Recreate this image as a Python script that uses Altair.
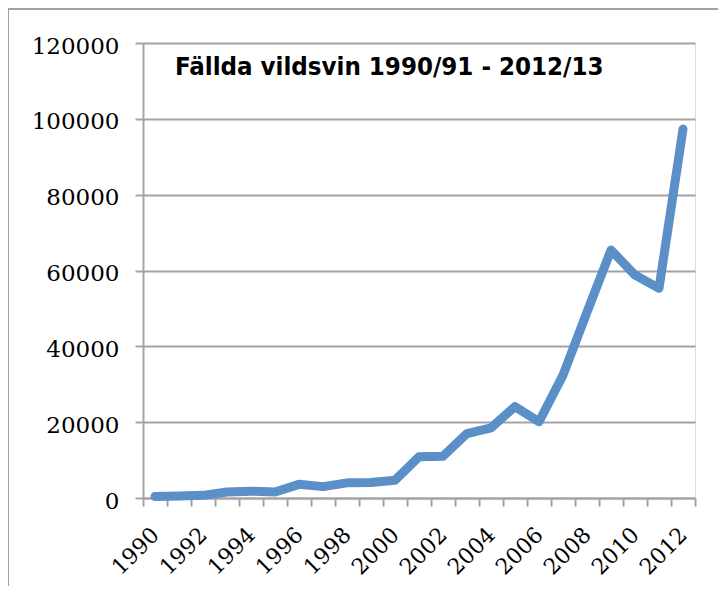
import altair as alt
import pandas as pd

years = list(range(1990, 2013))
killed = [400, 500, 700, 1600, 1800, 1600, 3600, 3000, 4000, 4100, 4700,
          10900, 11000, 17000, 18500, 24100, 20100, 32400, 49000, 65400,
          58800, 55300, 97300]
y_ticks = [0, 20000, 40000, 60000, 80000, 100000, 120000]
x_label_years = list(range(1990, 2013, 2))
x_tick_pos = [y - 0.5 for y in range(1990, 2014)]
title_text = "Fällda vildsvin 1990/91 - 2012/13"

df = pd.DataFrame({"year": years, "killed": killed})

W, H = 552, 455
PAD_L, PAD_T = 135, 35
PAD_R = 710 - PAD_L - W
PAD_B = 578 - PAD_T - H
GRAY = "#a3a3a3"
SERIF = "DejaVu Serif"

x_axis = alt.Axis(
    values=sorted(x_tick_pos + x_label_years),
    labelExpr="datum.value % 2 == 0 ? toString(datum.value) : ''",
    tickOpacity=alt.ExprRef(expr="datum.value % 1 == 0 ? 0 : 1"),
    labelAngle=-45, labelAlign="right", labelBaseline="middle",
    labelFont=SERIF, labelFontSize=22, labelColor="black",
    labelPadding=25, labelOverlap=False, labelBound=False, labelFlush=False,
    tickSize=8, tickColor=GRAY, tickWidth=2,
    domainColor=GRAY, domainWidth=2, grid=False, title=None,
)
y_axis = alt.Axis(
    values=y_ticks, format="d",
    labelFont=SERIF, labelFontSize=23, labelColor="black", labelPadding=16,
    labelOffset=3,
    tickSize=8, tickColor=GRAY, tickWidth=2,
    domainColor=GRAY, domainWidth=2,
    grid=True, gridColor=GRAY, gridWidth=2, title=None,
)

line = alt.Chart(df).mark_line(
    color="#5a8fc8", strokeWidth=9, strokeCap="round", strokeJoin="round"
).encode(
    x=alt.X("year:Q", scale=alt.Scale(domain=[1989.5, 2012.5], nice=False, zero=False), axis=x_axis),
    y=alt.Y("killed:Q", scale=alt.Scale(domain=[0, 120000], nice=False), axis=y_axis),
)

title = alt.Chart(alt.Data(values=[{"t": title_text}])).mark_text(
    font="DejaVu Sans Condensed", fontWeight="bold", fontSize=25.6,
    align="left", baseline="alphabetic", color="black",
).encode(x=alt.value(32), y=alt.value(32), text="t:N")

frame_left = alt.Chart(alt.Data(values=[{}])).mark_rule(color=GRAY, strokeWidth=2).encode(
    x=alt.value(-135), y=alt.value(-34), y2=alt.value(H + PAD_B + 10)
)
frame_top = alt.Chart(alt.Data(values=[{}])).mark_rule(color=GRAY, strokeWidth=2).encode(
    x=alt.value(-135), x2=alt.value(W + PAD_R + 10), y=alt.value(-34)
)

chart = alt.layer(frame_left, frame_top, line, title).properties(
    width=W, height=H,
    autosize=alt.AutoSizeParams(type="none"),
    padding={"left": PAD_L, "top": PAD_T, "right": PAD_R, "bottom": PAD_B},
).configure_view(strokeWidth=0).configure(background="white")

chart.save("out.html", embed_options={"renderer": "svg", "actions": False})
